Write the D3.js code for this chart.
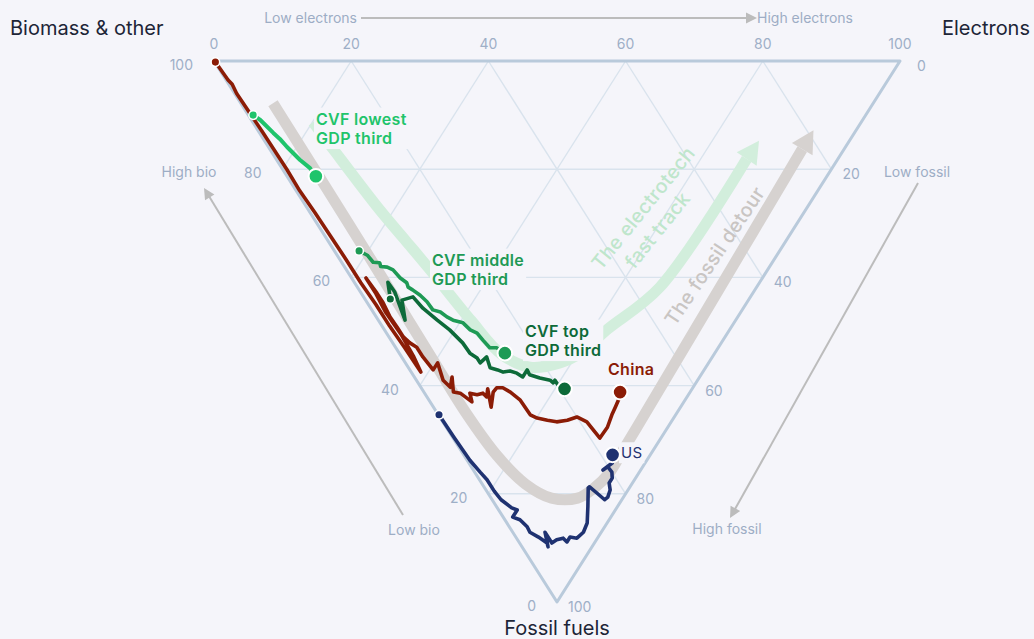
<!DOCTYPE html>
<html><head><meta charset="utf-8">
<script src="https://cdn.jsdelivr.net/npm/d3@7"></script>
<style>
html,body{margin:0;padding:0;background:#f5f5fa;}
svg{display:block;font-family:Inter,"Open Sans",sans-serif;}
</style></head><body>
<svg id="c" width="1034" height="639"></svg>
<script>
// ---- DATA (each point = [electrons %, fossil fuels %]; biomass & other = 100 - both) ----
const axisTicks = [0, 20, 40, 60, 80, 100];
const gridSteps = [20, 40, 60, 80];
const axisTitles = ["Biomass & other", "Electrons", "Fossil fuels"];
const directionLabels = ["Low electrons", "High electrons", "High bio", "Low bio", "Low fossil", "High fossil"];

const chinaPts = [[0.1,0.2],[0.3,3.5],[0.5,4.3],[0.3,6.0],[0.5,13],[0.6,20],[0.5,24],[0.7,28],[0.8,32.3],[0.9,36.5],[0.9,41],[1.1,45],[1.1,49],[1.3,53],[1.4,57.5],
  [1.8,54.5],[2.0,50.5],[1.8,46.5],[2.1,43],[2.1,40.1],
  [2.3,42.9],[2.3,44.7],[2.0,47.3],[2.1,49.2],[2.1,51.0],[2.5,52.1],[3.1,52.9],[3.1,54.7],[3.4,57.1],[4.7,55.8],[3.9,59.0],[4.3,60.3],[5.5,58.4],[4.3,61.2],[5.2,61.4],[6.1,63.0],[6.6,61.4],[7.5,61.7],[8.5,61.4],[8.7,62.1],[9.6,60.6],[8.4,64.0],[10.1,61.2],[11.0,60.4],[11.9,60.4],[12.6,61.2],[13.3,62.7],[13.4,65.4],[14.1,66.0],[15.4,66.4],[16.6,66.7],[18.3,66.4],[20.0,65.8],[21.0,66.7],[21.4,69.7],[23.5,67.7],[25.3,65.4],[26.5,64.0],[28.1,62.1],[28.6,61.2]];

const usPts = [[0.1,65.4],[0.2,69.5],[0.4,73.8],[0.8,76],[1.1,77.4],[1.1,79.5],[1.3,81.1],[2.1,82.6],[2.7,83.0],[1.4,84.3],[2.2,84.8],[2.6,86.1],[2.5,87.1],[3.3,88],[4.0,89.1],[3.8,89.8],[4.7,87.1],[4.7,89.1],[5.7,88.5],[6.8,88.2],[7.0,88.9],[7.9,88.0],[8.8,88.2],[10.3,87.1],[11.7,85.4],[13.3,82.4],[15.1,78.9],[15.4,78.7],[15.9,79.9],[16.4,81.1],[17.1,80.6],[18.1,79.3],[18.6,78.0],[19.5,77.1],[20.0,76.0],[19.9,75.0],[18.9,75.6],[20.9,74.3],[21.6,73.2],[21.7,72.8]];

const cvfLowPts = [[0.7,10.0],[1.3,10.9],[2.0,13.3],[2.4,14.4],[2.7,15.9],[3.4,18.3],[4.1,19.8],[4.2,21.3]];

const cvfMidPts = [[3.6,35.1],[4.4,35.9],[4.6,37.2],[5.5,37.3],[5.3,38.0],[6.2,38.1],[6.8,38.6],[7.1,40.1],[7.6,41.0],[7.4,41.8],[7.8,42.3],[8.4,43.3],[8.8,44.5],[8.9,46.0],[9.8,46.4],[10.3,47.3],[10.9,47.9],[12.1,48.4],[12.5,49.7],[13.2,50.3],[13.4,51.6],[13.7,53.0],[14.7,53.0],[15.4,54.0]];

const cvfTopPts = [[3.7,44.0],[4.9,40.9],[5.0,42.7],[3.9,47.9],[5.3,44.2],[7.2,43.6],[7.6,45.7],[8.6,47.9],[9.5,49.7],[10.2,52.1],[10.3,54.0],[10.9,54.9],[10.9,55.8],[12.4,54.7],[11.9,56.7],[12.8,57.1],[13.4,57.5],[14.5,57.3],[15.3,57.7],[15.8,58.4],[17.1,57.1],[17.0,58.0],[18.2,58.6],[19.5,59.0],[19.7,59.5],[20.2,59.0],[20.2,59.9],[20.8,60.6]];

// annotation pathways
const fossilDetourPts = [[4.7,7.8],[4.6,30],[4.3,55],[4.2,65],[4.8,73],[6.3,78.2],[8.8,80.8],[12.6,80.8],[16,78.9],[19.5,76.2],[23.7,71.9],[27.8,67.7],[52.9,41.8],[77.6,16.3]];
const electrotechPts = [[8.8,11.3],[9.3,17],[10.4,27.5],[11.3,33],[12.2,38.6],[13.5,48],[14.8,54.2],[17.8,56.6],[22.5,55.8],[26.4,54],[32.4,49.7],[44.1,41.8],[68.6,18.1]];

const seriesNames = ["China", "US", "CVF lowest GDP third", "CVF middle GDP third", "CVF top GDP third"];
const seriesColors = ["#8b1c06", "#1f3271", "#1fc46b", "#1e9a55", "#0d6a39"];

// ---- CHART ----
const BG = "#f5f5fa";
const X0 = 214, Y0 = 61, W = 686, H = 541;
const eScale = d3.scaleLinear().domain([0,100]).range([0, W]);
const fScale = d3.scaleLinear().domain([0,100]).range([Y0, Y0 + H]);
const pos = (e, f) => [X0 + eScale(e) + eScale(f) / 2, fScale(f)];

const svg = d3.select("#c");
svg.append("rect").attr("width",1034).attr("height",639).attr("fill",BG);

// grid
const gGrid = svg.append("g").attr("stroke","#d9e3ed").attr("stroke-width",1.4).attr("fill","none");
gridSteps.forEach(v => {
  [[pos(0,v), pos(100-v,v)], [pos(v,0), pos(v,100-v)], [pos(100-v,0), pos(0,100-v)]].forEach(([p,q]) => {
    gGrid.append("line").attr("x1",p[0]).attr("y1",p[1]).attr("x2",q[0]).attr("y2",q[1]);
  });
});
// triangle edges
const A = pos(0,0), B = pos(100,0), C = pos(0,100);
svg.append("path").attr("d", `M${A}L${B}L${C}Z`).attr("fill","none")
  .attr("stroke","#b9cadb").attr("stroke-width",3).attr("stroke-linejoin","round");

// tick labels
const tickCol = "#9eafc7";
const gT = svg.append("g").attr("fill",tickCol).attr("font-size",14);
axisTicks.forEach(v => {
  const pt = pos(v,0);
  gT.append("text").attr("x",pt[0]).attr("y",pt[1]-17).attr("dy","0.35em").attr("text-anchor","middle").text(v);
  const pl = pos(0,100-v);
  gT.append("text").attr("x",pl[0]-21).attr("y",pl[1]+4).attr("dy","0.35em").attr("text-anchor","end").text(v);
  const pr = pos(100-v, v);
  gT.append("text").attr("x",pr[0]+(v===0?17:11)).attr("y",pr[1]+5).attr("dy","0.35em").attr("text-anchor","start").text(v);
});

// axis titles
const titleCol = "#1d2537";
svg.append("text").attr("x",10).attr("y",28).attr("dy","0.35em").attr("font-size",20).attr("fill",titleCol).text(axisTitles[0]);
svg.append("text").attr("x",1030).attr("y",28).attr("dy","0.35em").attr("text-anchor","end").attr("font-size",20).attr("fill",titleCol).text(axisTitles[1]);
svg.append("text").attr("x",C[0]).attr("y",628).attr("dy","0.35em").attr("text-anchor","middle").attr("font-size",20).attr("fill",titleCol).text(axisTitles[2]);

// direction arrows
const arrCol = "#bcbcbc";
function dirArrow(x1,y1,x2,y2){
  const dx=x2-x1, dy=y2-y1, L=Math.hypot(dx,dy), ux=dx/L, uy=dy/L, hl=11, hw=5.5;
  const bx=x2-ux*hl, by=y2-uy*hl;
  svg.append("line").attr("x1",x1).attr("y1",y1).attr("x2",bx+ux).attr("y2",by+uy).attr("stroke",arrCol).attr("stroke-width",2);
  svg.append("path").attr("d",`M${x2},${y2}L${bx-uy*hw},${by+ux*hw}L${bx+uy*hw},${by-ux*hw}Z`).attr("fill",arrCol);
}
dirArrow(361,18,757,18);
dirArrow(403,515,204,188);
dirArrow(918,183,730,518);
const gD = svg.append("g").attr("fill","#9dadc5").attr("font-size",14);
gD.append("text").attr("x",357).attr("y",18).attr("dy","0.35em").attr("text-anchor","end").text(directionLabels[0]);
gD.append("text").attr("x",757).attr("y",18).attr("dy","0.35em").text(directionLabels[1]);
gD.append("text").attr("x",189).attr("y",172).attr("dy","0.35em").attr("text-anchor","middle").text(directionLabels[2]);
gD.append("text").attr("x",414).attr("y",530).attr("dy","0.35em").attr("text-anchor","middle").text(directionLabels[3]);
gD.append("text").attr("x",917).attr("y",172).attr("dy","0.35em").attr("text-anchor","middle").text(directionLabels[4]);
gD.append("text").attr("x",727).attr("y",529).attr("dy","0.35em").attr("text-anchor","middle").text(directionLabels[5]);

// big pathway arrows
function bigArrow(pts, color, width, headLen, headHalf){
  const px = pts.map(d => pos(d[0], d[1]));
  svg.append("path").attr("d", d3.line().curve(d3.curveCatmullRom.alpha(0.5))(px))
    .attr("fill","none").attr("stroke",color).attr("stroke-width",width);
  const p1 = px[px.length-2], p2 = px[px.length-1];
  const dx=p2[0]-p1[0], dy=p2[1]-p1[1], L=Math.hypot(dx,dy), ux=dx/L, uy=dy/L;
  const tip=[p2[0]+ux*headLen, p2[1]+uy*headLen];
  svg.append("path").attr("d",`M${tip}L${p2[0]-uy*headHalf},${p2[1]+ux*headHalf}L${p2[0]+uy*headHalf},${p2[1]-ux*headHalf}Z`)
    .attr("fill",color);
}
bigArrow(electrotechPts, "#d2eedc", 11, 22, 12);
bigArrow(fossilDetourPts, "#d6d2d0", 11, 22, 12);

svg.append("text").attr("transform","translate(601,271) rotate(-51)").attr("font-size",19.5).attr("font-weight",500)
  .attr("fill","#bfe6cc").attr("letter-spacing",0.3).text("The electrotech");
svg.append("text").attr("transform","translate(601,271) rotate(-51) translate(22,25)").attr("font-size",19.5).attr("font-weight",500)
  .attr("fill","#bfe6cc").attr("letter-spacing",0.3).text("fast track");
svg.append("text").attr("transform","translate(675,327) rotate(-56)").attr("font-size",19.5).attr("font-weight",500)
  .attr("fill","#c9c5c3").attr("letter-spacing",0.3).text("The fossil detour");

// series lines
const line = d3.line().x(d => pos(d[0],d[1])[0]).y(d => pos(d[0],d[1])[1]);
const allSeries = [chinaPts, usPts, cvfLowPts, cvfMidPts, cvfTopPts];
const gL = svg.append("g");
allSeries.forEach((pts, i) => {
  gL.append("path").attr("d", line(pts)).attr("fill","none").attr("stroke", seriesColors[i])
    .attr("stroke-width", i===2 ? 4 : 3.6).attr("stroke-linejoin","round").attr("stroke-linecap","round");
});

// labels with background
function label(lines, x, y, color, weight, size){
  const g = svg.append("g");
  const t = g.append("text").attr("font-size",size).attr("font-weight",weight).attr("fill",color).attr("letter-spacing",0.3);
  lines.forEach((s,k) => t.append("tspan").attr("x",x).attr("y",y + k*19.5).attr("dy","0.35em").text(s));
  const bb = t.node().getBBox();
  g.insert("rect","text").attr("x",bb.x-2).attr("y",bb.y-1).attr("width",bb.width+4).attr("height",bb.height+2).attr("fill",BG);
}
label(["CVF lowest","GDP third"], 316, 119, seriesColors[2], 600, 16);
label(["CVF middle","GDP third"], 432, 260, seriesColors[3], 600, 16);
label(["CVF top","GDP third"], 525, 331, seriesColors[4], 600, 16);
label(["China"], 608, 369, seriesColors[0], 600, 16);
label(["US"], 621, 453, seriesColors[1], 400, 15);

// start & end markers
allSeries.forEach((pts, i) => {
  const s = pos(...pts[0]), e = pos(...pts[pts.length-1]);
  svg.append("circle").attr("cx",s[0]).attr("cy",s[1]).attr("r",4.3).attr("fill",seriesColors[i]).attr("stroke","#fff").attr("stroke-width",1.5);
  svg.append("circle").attr("cx",e[0]).attr("cy",e[1]).attr("r",7.3).attr("fill",seriesColors[i]).attr("stroke","#fff").attr("stroke-width",2);
});
</script>
</body></html>
